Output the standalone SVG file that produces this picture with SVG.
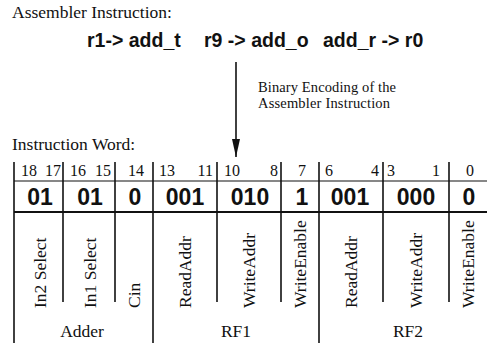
<svg xmlns="http://www.w3.org/2000/svg" width="487" height="349" viewBox="0 0 487 349">
  <style>
    .serif { font-family: "Liberation Serif", "Times New Roman", serif; fill: #111; }
    .title { font-size: 17.5px; }
    .note { font-size: 14.5px; }
    .bits { font-size: 16px; }
    .asm { font-family: "Liberation Sans", Arial, sans-serif; font-weight: bold; font-size: 19.5px; fill: #111; }
    .val { font-family: "Liberation Sans", Arial, sans-serif; font-weight: bold; font-size: 23px; fill: #111; text-anchor: middle; }
    .field { font-family: "Liberation Serif", "Times New Roman", serif; font-size: 17.5px; fill: #111; }
    .group { font-family: "Liberation Serif", "Times New Roman", serif; font-size: 17.5px; fill: #111; text-anchor: middle; }
    .mid { text-anchor: middle; }
    .end { text-anchor: end; }
    .rule { stroke: #111; stroke-width: 1.6; fill: none; }
    .thin { stroke: #111; stroke-width: 1.1; fill: none; }
    .thick { stroke: #111; stroke-width: 2; fill: none; }
  </style>
  <defs>
    <!-- narrow filled arrowhead, tip at the end of the line -->
    <marker id="arrowhead" viewBox="0 0 18 8" refX="18" refY="4" markerWidth="18" markerHeight="8" markerUnits="userSpaceOnUse" orient="auto">
      <path d="M0,0 L18,4 L0,8 Z" fill="#111"/>
    </marker>
  </defs>

  <!-- Assembler instruction -->
  <g id="assembler">
    <text class="serif title" x="12" y="18">Assembler Instruction:</text>
    <text class="asm" x="87" y="47">r1-&gt; add_t</text>
    <text class="asm" x="204" y="47">r9 -&gt; add_o</text>
    <text class="asm" x="323" y="47">add_r -&gt; r0</text>
  </g>

  <!-- Encoding step -->
  <g id="connectors">
    <line x1="236" y1="62" x2="236" y2="157" class="rule" marker-end="url(#arrowhead)"/>
  </g>
  <g id="encoding-note">
    <text class="serif note" x="258" y="92" textLength="138">Binary Encoding of the</text>
    <text class="serif note" x="258" y="108" textLength="132">Assembler Instruction</text>
  </g>

  <!-- Instruction word table -->
  <g id="instruction-word">
    <text class="serif title" x="12" y="150">Instruction Word:</text>

    <!-- horizontal rules -->
    <line x1="14" y1="181" x2="487" y2="181" class="thin"/>
    <line x1="14" y1="212" x2="487" y2="212" class="thick"/>

    <!-- full-height group separators -->
    <line x1="14" y1="162" x2="14" y2="343" class="rule"/>
    <line x1="153" y1="162" x2="153" y2="343" class="rule"/>
    <line x1="319" y1="162" x2="319" y2="343" class="rule"/>

    <!-- field separators -->
    <line x1="63" y1="162" x2="63" y2="302" class="rule"/>
    <line x1="115" y1="162" x2="115" y2="302" class="rule"/>
    <line x1="217" y1="162" x2="217" y2="302" class="rule"/>
    <line x1="281" y1="162" x2="281" y2="302" class="rule"/>
    <line x1="383" y1="162" x2="383" y2="302" class="rule"/>
    <line x1="449" y1="162" x2="449" y2="302" class="rule"/>

    <!-- bit positions -->
    <g class="serif bits">
      <text x="21" y="176">18</text>
      <text class="end" x="61" y="176">17</text>
      <text x="70" y="176">16</text>
      <text class="end" x="111" y="176">15</text>
      <text class="mid" x="136" y="176">14</text>
      <text x="159" y="176">13</text>
      <text class="end" x="213" y="176">11</text>
      <text x="224" y="176">10</text>
      <text class="end" x="278" y="176">8</text>
      <text class="mid" x="302" y="176">7</text>
      <text x="325" y="176">6</text>
      <text class="end" x="379" y="176">4</text>
      <text x="387" y="176">3</text>
      <text class="end" x="440" y="176">1</text>
      <text class="mid" x="470" y="176">0</text>
    </g>

    <!-- encoded values -->
    <g>
      <text class="val" x="40" y="205">01</text>
      <text class="val" x="90" y="205">01</text>
      <text class="val" x="135" y="205">0</text>
      <text class="val" x="185" y="205">001</text>
      <text class="val" x="250" y="205">010</text>
      <text class="val" x="302" y="205">1</text>
      <text class="val" x="350" y="205">001</text>
      <text class="val" x="416" y="205">000</text>
      <text class="val" x="469" y="205">0</text>
    </g>
  </g>

  <!-- Adder fields -->
  <g id="adder">
    <text class="field" transform="translate(46,308) rotate(-90)">In2 Select</text>
    <text class="field" transform="translate(96,308) rotate(-90)">In1 Select</text>
    <text class="field" transform="translate(140,308) rotate(-90)">Cin</text>
    <text class="group" x="82" y="337">Adder</text>
  </g>

  <!-- RF1 fields -->
  <g id="rf1">
    <text class="field" transform="translate(191,308) rotate(-90)">ReadAddr</text>
    <text class="field" transform="translate(255,308) rotate(-90)">WriteAddr</text>
    <text class="field" transform="translate(306,308) rotate(-90)">WriteEnable</text>
    <text class="group" x="236" y="337">RF1</text>
  </g>

  <!-- RF2 fields -->
  <g id="rf2">
    <text class="field" transform="translate(357,308) rotate(-90)">ReadAddr</text>
    <text class="field" transform="translate(422,308) rotate(-90)">WriteAddr</text>
    <text class="field" transform="translate(474,308) rotate(-90)">WriteEnable</text>
    <text class="group" x="408" y="337">RF2</text>
  </g>
</svg>
